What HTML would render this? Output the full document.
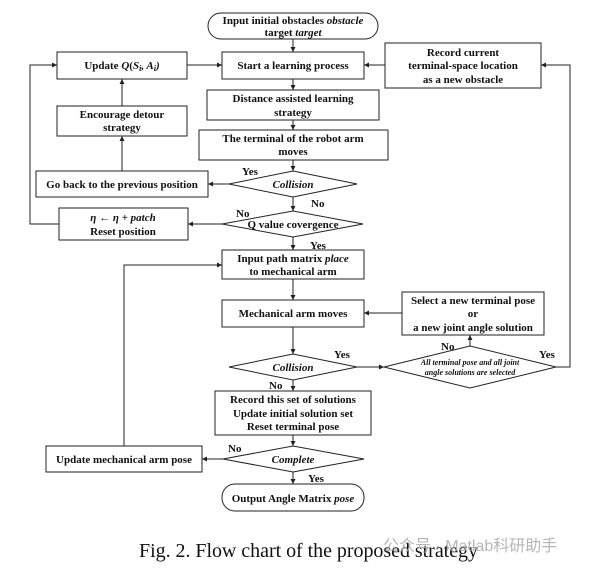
<!DOCTYPE html>
<html><head><meta charset="utf-8"><style>
html,body{margin:0;padding:0;background:#fff;}
svg{display:block;}
text{font-family:"Liberation Serif",serif;font-weight:bold;font-size:11px;fill:#111;}
.i{font-style:italic;}
</style></head><body>
<svg width="608" height="569" viewBox="0 0 608 569" xmlns="http://www.w3.org/2000/svg">
<defs><marker id="a" markerWidth="6" markerHeight="6" refX="5" refY="3" orient="auto"><path d="M0,0.5 L5,3 L0,5.5z" fill="#222"/></marker></defs>
<g fill="none" stroke="#222" stroke-width="1">
<rect x="208" y="13" width="170" height="26" rx="13"/>
<rect x="57" y="52" width="130" height="27"/>
<rect x="222" y="52" width="142" height="27"/>
<rect x="385" y="43" width="156" height="45"/>
<rect x="207" y="90" width="172" height="30"/>
<rect x="57" y="106" width="130" height="30"/>
<rect x="199" y="130" width="189" height="30"/>
<polygon points="229,184 293,171 357,184 293,197"/>
<rect x="36" y="171" width="172" height="26"/>
<polygon points="222,224 293,211 363,224 293,237"/>
<rect x="59" y="208" width="129" height="32"/>
<rect x="222" y="250" width="142" height="29"/>
<rect x="222" y="300" width="142" height="27"/>
<rect x="402" y="292" width="142" height="43"/>
<polygon points="229,367 293,354 357,367 293,380"/>
<polygon points="384,367 470,346 556,367 470,388"/>
<rect x="215" y="391" width="156" height="44"/>
<rect x="46" y="446" width="156" height="26"/>
<polygon points="223,459 293,446 364,459 293,472"/>
<rect x="222" y="484" width="142" height="27" rx="13"/>
<g marker-end="url(#a)">
<line x1="293" y1="39" x2="293" y2="52"/>
<line x1="293" y1="79" x2="293" y2="90"/>
<line x1="293" y1="120" x2="293" y2="130"/>
<line x1="293" y1="160" x2="293" y2="171"/>
<line x1="293" y1="197" x2="293" y2="211"/>
<line x1="293" y1="237" x2="293" y2="250"/>
<line x1="293" y1="279" x2="293" y2="300"/>
<line x1="293" y1="327" x2="293" y2="354"/>
<line x1="293" y1="380" x2="293" y2="391"/>
<line x1="293" y1="435" x2="293" y2="446"/>
<line x1="293" y1="472" x2="293" y2="484"/>
<line x1="187" y1="65" x2="222" y2="65"/>
<line x1="385" y1="65" x2="364" y2="65"/>
<line x1="229" y1="184" x2="208" y2="184"/>
<line x1="122" y1="171" x2="122" y2="136"/>
<line x1="122" y1="106" x2="122" y2="79"/>
<line x1="222" y1="224" x2="188" y2="224"/>
<polyline points="59,224 30,224 30,65 57,65"/>
<line x1="402" y1="313" x2="364" y2="313"/>
<line x1="357" y1="367" x2="384" y2="367"/>
<line x1="470" y1="346" x2="470" y2="335"/>
<polyline points="556,367 570,367 570,65 541,65"/>
<line x1="223" y1="459" x2="202" y2="459"/>
<polyline points="124,446 124,265 222,265"/>
</g>
</g>
<text x="293" y="24" text-anchor="middle">Input initial obstacles <tspan class="i">obstacle</tspan></text>
<text x="293" y="36" text-anchor="middle">target <tspan class="i">target</tspan></text>
<text x="122" y="69" text-anchor="middle">Update <tspan class="i">Q</tspan>(<tspan class="i">S<tspan font-size="8" dy="2">i</tspan><tspan dy="-2">, A</tspan><tspan font-size="8" dy="2">i</tspan><tspan dy="-2">)</tspan></tspan></text>
<text x="293" y="69" text-anchor="middle">Start a learning process</text>
<text x="463" y="56" text-anchor="middle">Record current</text>
<text x="463" y="69" text-anchor="middle">terminal-space location</text>
<text x="463" y="83" text-anchor="middle">as a new obstacle</text>
<text x="293" y="102" text-anchor="middle">Distance assisted learning</text>
<text x="293" y="116" text-anchor="middle">strategy</text>
<text x="122" y="118" text-anchor="middle">Encourage detour</text>
<text x="122" y="131" text-anchor="middle">strategy</text>
<text x="293" y="142" text-anchor="middle">The terminal of the robot arm</text>
<text x="293" y="155" text-anchor="middle">moves</text>
<text x="293" y="188" text-anchor="middle" class="i">Collision</text>
<text x="242" y="175">Yes</text>
<text x="311" y="207">No</text>
<text x="122" y="188" text-anchor="middle">Go back to the previous position</text>
<text x="236" y="217">No</text>
<text x="293" y="228" text-anchor="middle">Q value covergence</text>
<text x="310" y="249">Yes</text>
<text x="123" y="221" text-anchor="middle" class="i">η  ← η + patch</text>
<text x="123" y="235" text-anchor="middle">Reset position</text>
<text x="293" y="262" text-anchor="middle">Input path matrix <tspan class="i">place</tspan></text>
<text x="293" y="275" text-anchor="middle">to mechanical arm</text>
<text x="293" y="317" text-anchor="middle">Mechanical arm moves</text>
<text x="473" y="304" text-anchor="middle">Select a new terminal pose</text>
<text x="473" y="317" text-anchor="middle">or</text>
<text x="473" y="331" text-anchor="middle">a new joint angle solution</text>
<text x="293" y="371" text-anchor="middle" class="i">Collision</text>
<text x="334" y="358">Yes</text>
<text x="269" y="389">No</text>
<text x="441" y="350">No</text>
<text x="539" y="358">Yes</text>
<text x="470" y="365" text-anchor="middle" class="i" style="font-size:8px">All terminal pose and all joint</text>
<text x="470" y="375" text-anchor="middle" class="i" style="font-size:8px">angle solutions are selected</text>
<text x="293" y="403" text-anchor="middle">Record this set of solutions</text>
<text x="293" y="417" text-anchor="middle">Update initial solution set</text>
<text x="293" y="430" text-anchor="middle">Reset terminal pose</text>
<text x="228" y="452">No</text>
<text x="124" y="463" text-anchor="middle">Update mechanical arm pose</text>
<text x="293" y="463" text-anchor="middle" class="i">Complete</text>
<text x="308" y="482">Yes</text>
<text x="293" y="502" text-anchor="middle">Output Angle Matrix <tspan class="i">pose</tspan></text>
<text x="139" y="557" style="font-weight:normal;font-size:20px" textLength="339" lengthAdjust="spacing">Fig. 2.  Flow chart of the proposed strategy</text>
<text x="383" y="551" style="font-family:'Liberation Sans','Noto Sans CJK SC',sans-serif;font-weight:normal;font-size:16px;fill:#aaa;opacity:0.85">公众号 · Matlab科研助手</text>
</svg>
</body></html>
